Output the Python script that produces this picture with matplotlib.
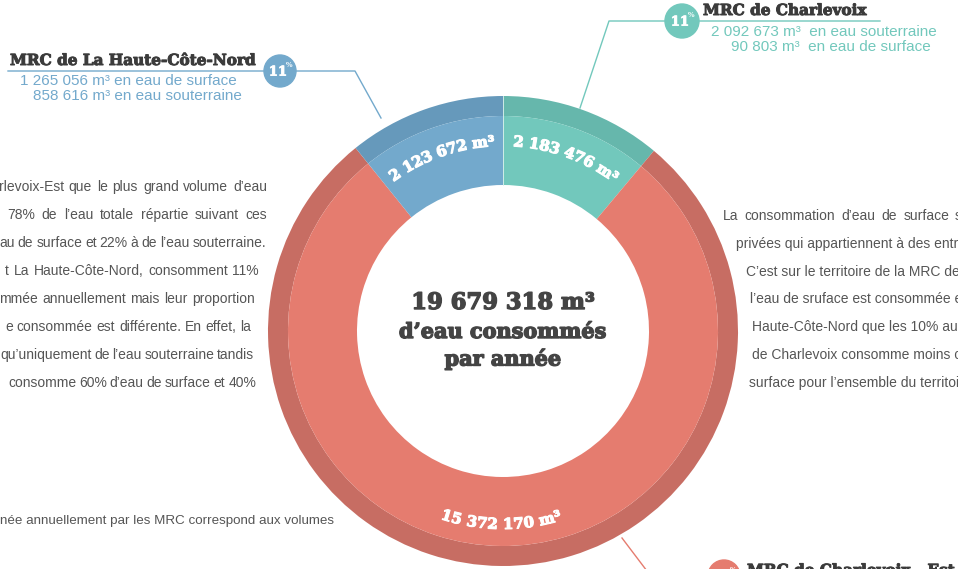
import numpy as np
import matplotlib
matplotlib.use('Agg')
import matplotlib.pyplot as plt
import matplotlib.patheffects as pe
from matplotlib.font_manager import FontProperties
from matplotlib.textpath import TextToPath
from matplotlib.patches import Circle

# annual water volumes per MRC (m3), drawn clockwise from the top
mrc_names = ["MRC de Charlevoix", "MRC de Charlevoix - Est", "MRC de La Haute-Côte-Nord"]
volumes_m3 = [2183476, 15372170, 2123672]
share_labels = ["11", "78", "11"]
total_label = "19 679 318 m³"

# split surface / ground water for the two small MRC
charlevoix_lines = ["2 092 673 m³  en eau souterraine", "90 803 m³  en eau de surface"]
hcn_lines = ["1 265 056 m³ en eau de surface", "858 616 m³ en eau souterraine"]

left_par = [
    "rlevoix-Est que le plus grand volume d’eau",
    "78% de l’eau totale répartie suivant ces",
    "au de surface et 22% à de l’eau souterraine.",
    "t La Haute-Côte-Nord, consomment 11%",
    "mmée annuellement mais leur proportion",
    "e consommée est différente. En effet, la",
    "qu’uniquement de l’eau souterraine tandis",
    "consomme 60% d’eau de surface et 40%",
]
right_par = [
    "La consommation d’eau de surface s",
    "privées qui appartiennent à des entre",
    "C’est sur le territoire de la MRC de",
    "l’eau de sruface est consommée e",
    "Haute-Côte-Nord que les 10% au",
    "de Charlevoix consomme moins c",
    "surface pour l’ensemble du territoi",
]
bottom_line = "née annuellement par les MRC correspond aux volumes"

main_colors = ["#72c8bc", "#e57c6f", "#73a9cc"]
dark_colors = ["#66b7ac", "#c76d63", "#6699bb"]

W, H = 958, 569
DPI = 100


def Y(py):
    return H - py


fig = plt.figure(figsize=(W / DPI, H / DPI), dpi=DPI)
ax = fig.add_axes([0, 0, 1, 1])

cx, cy = 503, Y(331)
r_out, r_mid, r_in = 235, 215, 146

ax.pie(volumes_m3, colors=dark_colors, radius=r_out, center=(cx, cy), startangle=90,
       counterclock=False, wedgeprops=dict(width=r_out - r_mid, linewidth=0))
ax.pie(volumes_m3, colors=main_colors, radius=r_mid, center=(cx, cy), startangle=90,
       counterclock=False, wedgeprops=dict(width=r_mid - r_in, linewidth=0))
ax.plot([cx, cx], [cy + r_in, cy + r_out], color="#dff2ef", lw=0.6, zorder=3)

ttp = TextToPath()


def width_px(s, fp):
    w, h, d = ttp.get_text_width_height_descent(s, fp, ismath=False)
    return w * DPI / 72


def advance_px(ch, fp):
    return width_px("n" + ch + "n", fp) - width_px("nn", fp)


def heavy(color, lw=0.7):
    return [pe.withStroke(linewidth=lw, foreground=color)]


def arc_text(s, mid_deg, fp, color="white"):
    widths = [advance_px(c, fp) for c in s]
    total = sum(widths)
    bottom = np.sin(np.radians(mid_deg)) < 0
    radius = 194 if bottom else 189
    sign = 1 if bottom else -1
    start = np.radians(mid_deg) - sign * total / 2 / radius
    pos = 0
    for c, w in zip(s, widths):
        a = start + sign * (pos + w / 2) / radius
        pos += w
        if c == " ":
            continue
        rot = np.degrees(a) + (90 if bottom else -90)
        ax.text(cx + radius * np.cos(a), cy + radius * np.sin(a), c, fontproperties=fp,
                color=color, ha="center", va="center", rotation=rot,
                rotation_mode="anchor", zorder=5, path_effects=heavy(color, 0.8))


label_fp = FontProperties(family="DejaVu Serif", weight="heavy", size=10.8)
total = sum(volumes_m3)
cum = 0
for v in volumes_m3:
    mid = 90 - 360 * (cum + v / 2) / total
    cum += v
    txt = f"{v:,}".replace(",", " ") + " m³"
    arc_text(txt, mid, label_fp)

# centre text
dark = "#444444"
serif = dict(family="DejaVu Serif", weight="bold", color=dark, ha="center", va="center",
             path_effects=heavy(dark, 1.0))
ax.text(cx, Y(303), total_label, fontsize=16.3, **serif)
ax.text(cx, Y(332), "d’eau consommés", fontsize=15, **serif)
ax.text(cx, Y(359), "par année", fontsize=15, **serif)


def badge(x, y, r, color, share):
    ax.add_patch(Circle((x, Y(y)), r, color=color, zorder=6))
    ax.text(x - 2, Y(y + 1), share, fontsize=9.5, family="DejaVu Serif", weight="bold",
            color="white", ha="center", va="center", zorder=7,
            path_effects=heavy("white", 0.6))
    ax.text(x + 9, Y(y - 6), "%", fontsize=5, family="DejaVu Serif", weight="bold",
            color="white", ha="center", va="center", zorder=7)


blue, teal, red = main_colors[2], main_colors[0], main_colors[1]
head = dict(family="DejaVu Serif", weight="bold", color="#3b3b3b", fontsize=11, va="center",
            path_effects=heavy("#3b3b3b", 0.7))
sub = dict(family="Liberation Sans", fontsize=11, va="center")

# La Haute-Côte-Nord callout
ax.plot([8, 355, 381], [Y(71), Y(71), Y(118)], color=blue, lw=1)
badge(280, 71, 16, blue, share_labels[2])
ax.text(10, Y(61), mrc_names[2], ha="left", **head)
ax.text(20, Y(81), hcn_lines[0], color=blue, ha="left", **sub)
ax.text(33, Y(96), hcn_lines[1], color=blue, ha="left", **sub)

# Charlevoix callout
ax.plot([580, 609, 880], [Y(108), Y(21), Y(21)], color=teal, lw=1)
badge(682, 21, 17, teal, share_labels[0])
ax.text(703, Y(11), mrc_names[0], ha="left", **head)
ax.text(711, Y(32), charlevoix_lines[0], color=teal, ha="left", **sub)
ax.text(731, Y(47), charlevoix_lines[1], color=teal, ha="left", **sub)

# Charlevoix-Est callout
ax.plot([622, 650, 958], [Y(538), Y(575), Y(575)], color=red, lw=1)
badge(724, 576, 16, red, share_labels[1])
ax.text(747, Y(571), mrc_names[1], ha="left", **head)

# paragraphs
body_fp = FontProperties(family="Liberation Sans", size=10)
body_col = "#555555"


def justify(line, x0, x1, y):
    words = line.split(" ")
    ws = [width_px(w, body_fp) for w in words]
    gap = (x1 - x0 - sum(ws)) / max(len(words) - 1, 1)
    x = x0
    for w, wd in zip(words, ws):
        ax.text(x, Y(y), w, fontproperties=body_fp, color=body_col, ha="left", va="center")
        x += wd + gap


left_x0 = [-1, 7, -1, 5, -1, 5, 0, 8]
left_x1 = [267, 267, 266, 259, 255, 251, 254, 256]
for i, line in enumerate(left_par):
    justify(line, left_x0[i], left_x1[i], 187 + 28 * i)

right_x0 = [723, 736, 746, 750, 752, 752, 749]
for i, line in enumerate(right_par):
    if i == 0:
        justify(line, right_x0[i], 962, 216)
    else:
        ax.text(right_x0[i], Y(216 + 27.8 * i), line, fontproperties=body_fp,
                color=body_col, ha="left", va="center")

ax.text(0, Y(521), bottom_line, family="Liberation Sans", fontsize=9.6, color=body_col,
        ha="left", va="center")

ax.set_xlim(0, W)
ax.set_ylim(0, H)
ax.set_aspect("equal")
ax.axis("off")

plt.savefig("out.png", dpi=DPI, facecolor="white")
